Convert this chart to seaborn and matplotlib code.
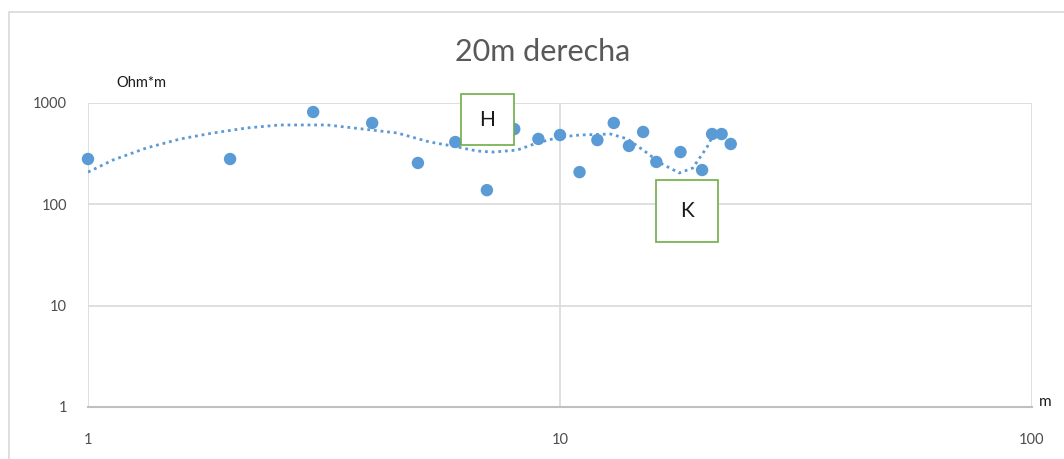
import matplotlib
matplotlib.use("Agg")
import matplotlib.pyplot as plt
import seaborn as sns
import pandas as pd
from matplotlib.patches import Rectangle
from matplotlib.ticker import FixedLocator, FixedFormatter, NullLocator

# ---- data ----
dist_m = [1, 2, 3, 4, 5, 6, 7, 8, 9, 10, 11, 12, 13, 14, 15, 16, 18, 20, 21, 22, 23]
resist = [280, 280, 815, 635, 256, 412, 138, 553, 442, 483, 208, 431, 635, 377, 518,
          262, 328, 218, 494, 494, 394]

trend_x = [1.0, 1.13, 1.33, 1.57, 1.84, 2.17, 2.55, 3.21, 3.83, 4.52, 5.30, 5.93, 6.67,
           7.21, 8.11, 8.94, 10.0, 11.0, 12.8, 13.9, 15.3, 16.3, 17.9, 19.1, 20.5, 21.1]
trend_y = [208, 274, 360, 442, 506, 567, 607, 607, 553, 506, 412, 376, 336,
           328, 343, 403, 461, 483, 494, 442, 321, 256, 204, 228, 368, 483]

x_ticks = [1, 10, 100]
x_labels = ["1", "10", "100"]
y_ticks = [1, 10, 100, 1000]
y_labels = ["1", "10", "100", "1000"]

title = "20m derecha"
y_unit = "Ohm*m"
x_unit = "m"

df = pd.DataFrame({"x": dist_m, "y": resist})
tdf = pd.DataFrame({"x": trend_x, "y": trend_y})

sns.set_theme(style="white")
plt.rcParams["font.family"] = ["Lato", "DejaVu Sans"]

W, H = 1064, 459
fig = plt.figure(figsize=(W / 100, H / 100), dpi=100)
fig.patch.set_facecolor("white")

# outer chart border
fig.patches.append(Rectangle((9 / W, -0.05), 1.2, (H - 12.5) / H + 0.05, transform=fig.transFigure,
                             fill=False, edgecolor="#D9D9D9", linewidth=1.2, zorder=0))

ax = fig.add_axes([88 / W, 1 - 407 / H, (1032 - 88) / W, (407 - 103) / H])
ax.set_xscale("log")
ax.set_yscale("log")
ax.set_xlim(1, 100)
ax.set_ylim(1, 1000)

blue = "#5B9BD5"
sns.lineplot(data=tdf, x="x", y="y", ax=ax, color=blue, linewidth=2.0,
             linestyle=(0, (1, 1.4)), dash_capstyle="butt", zorder=2, sort=False)
sns.scatterplot(data=df, x="x", y="y", ax=ax, color=blue, s=80, edgecolor="none",
                zorder=3, clip_on=False)

ax.xaxis.set_major_locator(FixedLocator(x_ticks))
ax.xaxis.set_major_formatter(FixedFormatter(x_labels))
ax.yaxis.set_major_locator(FixedLocator(y_ticks))
ax.yaxis.set_major_formatter(FixedFormatter(y_labels))
ax.xaxis.set_minor_locator(NullLocator())
ax.yaxis.set_minor_locator(NullLocator())

ax.grid(True, which="major", color="#D9D9D9", linewidth=1.2)
for s in ["top", "right", "left"]:
    ax.spines[s].set_visible(False)
ax.spines["bottom"].set_color("#BFBFBF")
ax.spines["bottom"].set_linewidth(1.5)
ax.tick_params(axis="both", length=0, labelsize=10.5, labelcolor="#4D4D4D")
ax.tick_params(axis="x", pad=19)
ax.tick_params(axis="y", pad=15)
ax.set_xlabel("")
ax.set_ylabel("")

fig.text(543 / W, 1 - 52 / H, title, ha="center", va="center", fontsize=22, color="#595959")
fig.text(116 / W, 1 - 83 / H, y_unit, ha="left", va="center", fontsize=10.5, color="#1A1A1A")
fig.text(1039 / W, 1 - 402 / H, x_unit, ha="left", va="center", fontsize=11, color="#1A1A1A")

# annotation boxes
def label_box(x0, y0, x1, y1, txt):
    fig.patches.append(Rectangle((x0 / W, 1 - y1 / H), (x1 - x0) / W, (y1 - y0) / H,
                                 transform=fig.transFigure, facecolor="white",
                                 edgecolor="#70AD47", linewidth=1.2, zorder=5))
    fig.text((x0 + x1) / 2 / W, 1 - (y0 + y1) / 2 / H, txt, ha="center", va="center",
             fontsize=15, color="#1A1A1A", zorder=6)

label_box(461, 94, 514, 145, "H")
label_box(656, 180, 718, 242, "K")

fig.savefig("out.png", dpi=100)
